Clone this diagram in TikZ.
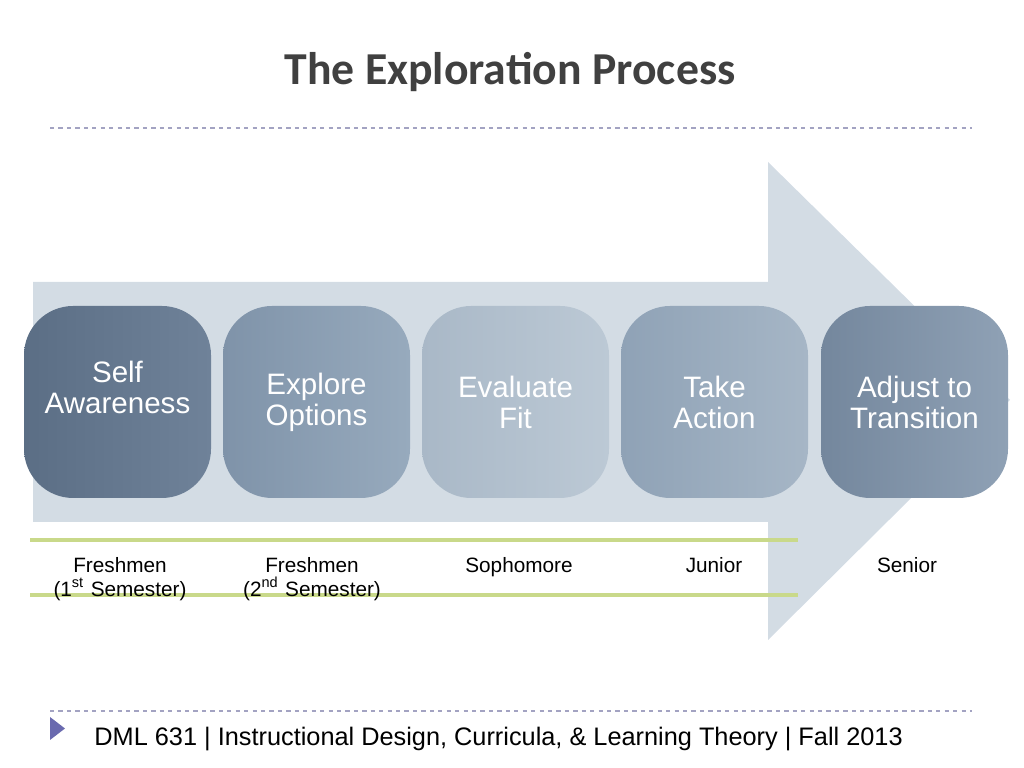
\documentclass[tikz,border=0pt]{standalone}
\usepackage{fontspec}
\setmainfont{Liberation Sans}
\newfontfamily\titlefont{Carlito}
\begin{document}
\begin{tikzpicture}[x=0.01cm,y=-0.01cm,
  box/.style={rounded corners=14pt},
  boxtext/.style={text=white,font=\fontsize{8.4}{8.8}\selectfont,align=center},
  yeartext/.style={font=\fontsize{5.9}{6.9}\selectfont,align=center,anchor=north},
  sep/.style={dash pattern=on 1.2pt off 1.2pt,line width=0.3pt,draw=blue!20!gray!60}]
\useasboundingbox (0,0) rectangle (1024,768);
\definecolor{arrowc}{HTML}{D3DCE4}
\definecolor{greenl}{HTML}{C9D98A}
\node[font=\titlefont\bfseries\fontsize{13}{15}\selectfont,text=black!75] (title) at (510,72) {The Exploration Process};
\coordinate (d1a) at (50,128); \coordinate (d1b) at (972,128);
\draw[sep] (d1a) -- (d1b);
\fill[arrowc] (33,282) -- (768,282) -- (768,162) -- (1010,400) -- (768,640) -- (768,522) -- (33,522) -- cycle;
\coordinate (g1a) at (30,540); \coordinate (g1b) at (798,540);
\coordinate (g2a) at (30,595); \coordinate (g2b) at (798,595);
\draw[greenl,line width=1pt] (g1a) -- (g1b) (g2a) -- (g2b);
\foreach \i/\x/\ty/\ca/\cb/\t in {1/24/387/5B6E85/6F8299/{Self\\Awareness},2/223/402/7F93A9/97AABD/{Explore\\Options},3/422/402/A9B8C7/BCC9D5/{Evaluate\\Fit},4/621/402/8FA2B6/A6B6C6/{Take\\Action},5/821/402/74879D/8FA1B5/{Adjust to\\Transition}}{
  \definecolor{ca}{HTML}{\ca}\definecolor{cb}{HTML}{\cb}
  \shade[box,left color=ca,right color=cb] (\x,306) rectangle ++(187,192);
  \node[boxtext] (b\i) at (\x+93.5,\ty) {\t};
}
\node[yeartext] (y1) at (120,545) {Freshmen\\(1\textsuperscript{st} Semester)};
\node[yeartext] (y2) at (312,545) {Freshmen\\(2\textsuperscript{nd} Semester)};
\node[yeartext] (y3) at (519,545) {Sophomore};
\node[yeartext] (y4) at (714,545) {Junior};
\node[yeartext] (y5) at (907,545) {Senior};
\coordinate (d2a) at (50,711); \coordinate (d2b) at (972,711);
\draw[sep] (d2a) -- (d2b);
\fill[blue!30!gray!90] (50,717) -- (65,728.5) -- (50,740) -- cycle;
\node[anchor=west,font=\fontsize{7.2}{8}\selectfont] (foot) at (82,739) {DML 631 | Instructional Design, Curricula, \& Learning Theory | Fall 2013};
\end{tikzpicture}
\end{document}
